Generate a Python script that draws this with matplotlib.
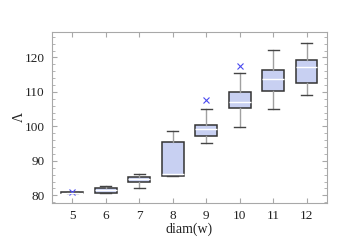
import numpy as np
import matplotlib
matplotlib.use("Agg")
import matplotlib.pyplot as plt
from matplotlib.ticker import MultipleLocator

plt.rcParams['font.family'] = ['Liberation Serif', 'DejaVu Serif']

# box statistics
diam = [5, 6, 7, 8, 9, 10, 11, 12]
q1 = [80.7, 80.8, 83.8, 85.6, 97.2, 105.2, 110.3, 112.5]
med = [80.8, 81.5, 84.6, 86.1, 99.1, 107.1, 113.7, 117.3]
q3 = [80.9, 82.2, 85.4, 95.6, 100.5, 109.9, 116.5, 119.3]
wlo = [80.7, 80.8, 82.1, 85.5, 95.2, 99.7, 105.0, 109.2]
whi = [80.9, 82.7, 86.2, 98.8, 105.1, 115.5, 122.2, 124.3]
fliers = [[80.9], [], [], [], [107.6], [117.5], [], []]

stats = []
for i in range(len(diam)):
    stats.append(dict(q1=q1[i], med=med[i], q3=q3[i], whislo=wlo[i],
                      whishi=whi[i], fliers=fliers[i], label=str(diam[i])))

fig, ax = plt.subplots(figsize=(3.41, 2.52), dpi=100)
fig.subplots_adjust(left=0.152, right=0.958, top=0.873, bottom=0.195)

ax.bxp(stats, positions=diam, widths=0.65, patch_artist=True,
       boxprops=dict(facecolor='#c8d0f2', edgecolor='#333333', linewidth=1.1),
       medianprops=dict(color='white', linewidth=1.0),
       whiskerprops=dict(color='#a0a0a0', linewidth=1.0),
       capprops=dict(color='#444444', linewidth=1.0),
       flierprops=dict(marker='x', markeredgecolor='#4a4af0', markersize=4,
                       markeredgewidth=0.8, linestyle='none'))

ax.set_xlim(4.39, 12.6)
ax.set_ylim(77.8, 127.4)
ax.set_xticks(diam)
ax.set_xticklabels([str(d) for d in diam])
ax.yaxis.set_major_locator(MultipleLocator(10))
ax.yaxis.set_minor_locator(MultipleLocator(2))

for s in ax.spines.values():
    s.set_color('#a8a8a8')
ax.tick_params(which='both', direction='in', top=True, right=True,
               color='#a8a8a8', labelsize=9.5, pad=5)
ax.tick_params(which='major', length=3.5)
ax.tick_params(which='minor', length=2)

ax.set_xlabel('diam(w)', fontsize=10, color='#222222')
ax.set_ylabel('Λ', fontsize=10, color='#222222')
ax.xaxis.set_label_coords(0.5, -0.115)
ax.yaxis.set_label_coords(-0.095, 0.5)
for lab in ax.get_xticklabels() + ax.get_yticklabels():
    lab.set_color('#222222')

fig.savefig('out.png', dpi=100)
